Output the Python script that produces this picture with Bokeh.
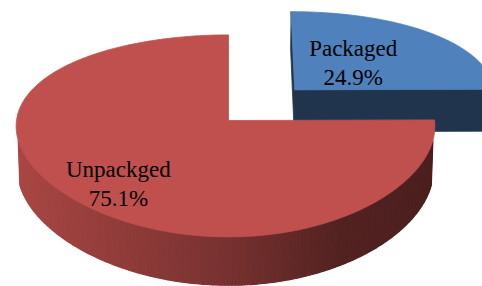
import numpy as np
from bokeh.plotting import figure
from bokeh.models import Range1d, Label
from bokeh.embed import file_html
from bokeh.resources import INLINE
from bokeh.core.properties import value

# ---------------- data ----------------
categories = ["Packaged", "Unpackged"]
shares = [24.9, 75.1]
share_labels = ["24.9%", "75.1%"]

# ---------------- style ----------------
top_colors = [(79, 129, 189), (192, 80, 77)]
explode = [0.46, 0.0]
label_radius = [0.52, 0.72]
label_angle_offset = [-9.0, 0.0]   # degrees from slice bisector
FONT = "Liberation Serif"
FONT_SIZE = "23px"

# view / projection parameters (pixel space of the page)
CX, CY = 228.0, 120.0
FX_MID, FX_SKEW = 209.0, 3.0
FY = 209.0
SIN_E, COS_E = 0.472, 0.882
DIST_Y, DIST_X = 5.79, 15.0
THICK = 0.24
CAM = np.array([0.0, DIST_Y * SIN_E, DIST_Y * COS_E])


def project(X, Y, Z):
    X = np.asarray(X, float); Y = np.asarray(Y, float); Z = np.asarray(Z, float)
    zc = Z * COS_E + Y * SIN_E
    yup = Y * COS_E - Z * SIN_E
    sx = CX + X * (FX_MID - FX_SKEW * X) * DIST_X / (DIST_X - zc)
    sy = CY - FY * yup * DIST_Y / (DIST_Y - zc)
    return sx, sy


def shade(rgb, f):
    return "#%02x%02x%02x" % tuple(max(0, min(255, int(round(c * f)))) for c in rgb)


def side_factor(nx):
    return float(np.interp(nx, [-1, 0, 0.5, 1], [0.89, 0.62, 0.43, 0.39]))


p = figure(width=482, height=286,
           x_range=Range1d(0, 482), y_range=Range1d(286, 0),
           x_axis_type=None, y_axis_type=None,
           output_backend="svg", toolbar_location=None,
           min_border=0, outline_line_color=None)
p.background_fill_color = "white"
p.border_fill_color = "white"

total = float(sum(shares))
slices = []
cum = 0.0
for i, s in enumerate(shares):
    a0 = cum / total * 2 * np.pi
    a1 = (cum + s) / total * 2 * np.pi
    cum += s
    am = 0.5 * (a0 + a1)
    ox = explode[i] * np.sin(am)
    oz = -explode[i] * np.cos(am)
    slices.append((i, a0, a1, am, ox, oz))

# draw back-to-front
slices.sort(key=lambda t: t[5])

label_xy = {}
for (i, a0, a1, am, ox, oz) in slices:
    rgb = top_colors[i]
    n = max(int(np.degrees(a1 - a0) * 1.2), 12)
    ang = np.linspace(a0, a1, n)
    rx = ox + np.sin(ang)
    rz = oz - np.cos(ang)
    tx, ty = project(rx, 0.0, rz)
    bx, by = project(rx, -THICK, rz)

    # curved side wall, strip by strip with shading
    sxs, sys_, scol = [], [], []
    for k in range(n - 1):
        mid = 0.5 * (ang[k] + ang[k + 1])
        nrm = np.array([np.sin(mid), 0.0, -np.cos(mid)])
        pt = np.array([ox + np.sin(mid), -THICK / 2, oz - np.cos(mid)])
        if np.dot(nrm, CAM - pt) <= 0:
            continue
        sxs.append([tx[k], tx[k + 1], bx[k + 1], bx[k]])
        sys_.append([ty[k], ty[k + 1], by[k + 1], by[k]])
        scol.append(shade(rgb, side_factor(np.sin(mid))))
    if sxs:
        p.patches(sxs, sys_, fill_color=scol, line_color=scol, line_width=1.2)

    # radial faces
    cxp, cyp = project(ox, 0.0, oz)
    cbx, cby = project(ox, -THICK, oz)
    for a, sign in ((a0, -1.0), (a1, 1.0)):
        nrm = sign * np.array([np.cos(a), 0.0, np.sin(a)])
        pt = np.array([ox + 0.5 * np.sin(a), -THICK / 2, oz - 0.5 * np.cos(a)])
        if np.dot(nrm, CAM - pt) <= 1e-6:
            continue
        ex, ey = project(ox + np.sin(a), 0.0, oz - np.cos(a))
        fx, fy = project(ox + np.sin(a), -THICK, oz - np.cos(a))
        col = shade(rgb, 0.41)
        p.patch([float(cxp), float(ex), float(fx), float(cbx)],
                [float(cyp), float(ey), float(fy), float(cby)],
                fill_color=col, line_color=col, line_width=0.8)

    # top surface
    xs = np.concatenate([[cxp], tx])
    ys = np.concatenate([[cyp], ty])
    col = shade(rgb, 1.0)
    p.patch(xs, ys, fill_color=col, line_color=col, line_width=0.8)

    la = am + np.radians(label_angle_offset[i])
    lr = label_radius[i]
    lx, ly = project(ox + lr * np.sin(la), 0.0, oz - lr * np.cos(la))
    label_xy[i] = (float(lx), float(ly))

for i in range(len(shares)):
    lx, ly = label_xy[i]
    for txt, dy in ((categories[i], -6), (share_labels[i], 23)):
        p.add_layout(Label(x=lx, y=ly + dy, text=txt,
                           text_align="center", text_baseline="alphabetic",
                           text_font=FONT, text_font_size=FONT_SIZE,
                           text_color="black"))

open("out.html", "w").write(file_html(p, INLINE))
